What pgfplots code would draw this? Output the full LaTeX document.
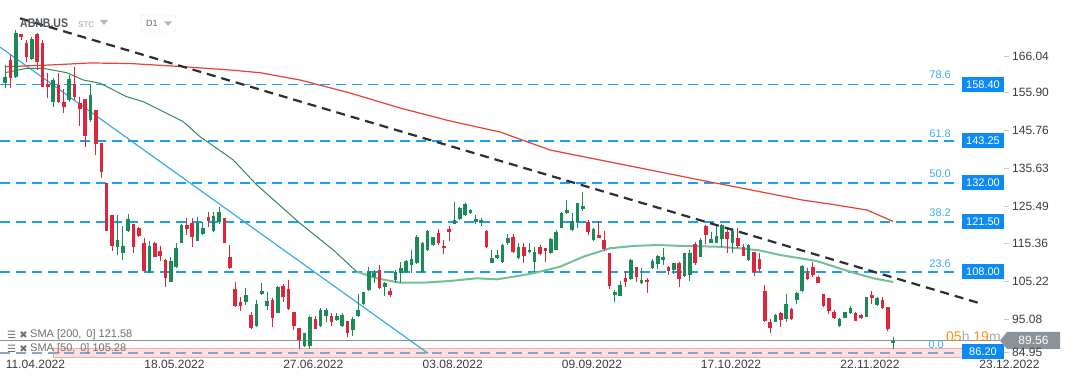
\documentclass[border=0pt]{standalone}
\usepackage{pgfplots}
\pgfplotsset{compat=1.18}
\usepackage{pgfplotstable}
\usepackage{fontspec}
\setmainfont{Liberation Sans}
\newfontfamily\dejavu{DejaVu Sans}
\definecolor{upc}{HTML}{1A8A56}
\definecolor{dnc}{HTML}{DB263B}
\definecolor{fib}{HTML}{1AA0EE}
\definecolor{fibtxt}{HTML}{3AAAF0}
\definecolor{fibbox}{HTML}{0D8BF5}
\definecolor{smaR}{HTML}{E5403B}
\definecolor{smaG}{HTML}{2E8B57}
\definecolor{smaGl}{HTML}{72C09A}
\definecolor{txt}{HTML}{3C3C3C}
\definecolor{pricegray}{HTML}{8C9398}
\definecolor{cdown}{HTML}{F7931E}
\definecolor{zeroline}{HTML}{8CA5C3}
\definecolor{ltblue}{HTML}{29A8E0}
\definecolor{trend}{HTML}{2B2F33}
\definecolor{hdr}{HTML}{50565C}
\definecolor{hdrl}{HTML}{96A0A8}
\definecolor{tri}{HTML}{B0B8BF}
\definecolor{boxb}{HTML}{DCDCDC}
\definecolor{dtxt}{HTML}{646464}
\definecolor{legt}{HTML}{6E6E6E}
\definecolor{hgray}{HTML}{A8AEB2}

\pgfplotstableread{
i o h l c
1 158.9 163.6 157.4 160.3
3 160.5 173.0 160.1 172.2
6 165.2 171.1 165.0 170.5
10 153.6 160.0 152.4 159.6
13 154.2 160.9 153.8 159.8
17 148.8 158.5 148.4 155.6
22 114.6 123.3 112.5 116.6
23 113.1 120.3 111.2 114.9
24 119.1 123.5 118.8 122.1
28 107.8 116.4 107.6 114.9
32 105.4 112.1 105.2 110.9
33 109.4 115.7 109.0 114.3
34 115.9 120.8 115.7 120.6
37 116.4 122.8 116.3 121.2
38 118.1 121.3 117.9 119.7
40 119.1 124.0 118.8 123.0
41 121.3 125.4 121.0 124.2
46 99.8 103.6 99.1 101.7
48 93.5 100.5 93.3 99.4
49 102.1 105.0 101.8 102.9
50 98.8 102.7 97.8 100.2
52 97.0 104.2 97.0 104.0
57 88.0 91.7 87.8 91.5
58 88.1 96.2 87.2 96.0
60 93.5 98.2 93.3 97.8
61 96.1 98.4 94.6 97.8
63 95.1 97.0 94.9 96.1
64 93.5 97.0 93.3 96.5
66 92.4 96.0 90.8 95.3
67 96.1 102.0 96.0 97.8
68 99.4 102.7 99.1 102.5
69 103.1 109.2 102.9 108.3
70 106.7 108.5 104.9 107.8
72 103.9 105.4 101.6 105.0
74 105.8 108.5 104.9 108.0
75 107.6 110.7 104.9 109.0
76 108.0 111.2 107.8 111.0
77 109.9 113.9 107.6 111.5
78 110.3 117.9 110.1 117.3
79 108.0 116.1 107.8 115.8
80 113.9 119.3 113.7 119.1
81 115.2 117.4 115.0 117.3
85 121.0 126.9 121.0 121.9
86 122.1 125.4 121.9 125.1
87 123.3 126.6 123.0 126.2
88 123.9 124.8 123.6 124.6
89 121.3 123.3 121.0 122.1
90 121.2 122.4 120.3 121.9
92 110.5 114.0 110.3 111.8
93 111.7 114.0 111.4 112.5
94 110.7 115.5 110.5 115.2
95 115.7 118.1 115.2 117.2
97 111.7 115.7 111.5 114.6
99 113.4 115.7 113.2 114.0
100 110.6 114.6 108.0 113.3
103 113.0 117.0 112.8 116.8
104 114.0 119.3 113.9 118.8
105 119.9 124.0 119.7 123.7
106 123.9 127.3 123.5 124.6
107 119.3 123.7 119.1 121.7
108 121.5 126.6 119.7 126.4
109 124.9 129.6 124.4 125.7
111 116.6 119.9 116.4 119.5
115 101.8 103.1 100.0 102.5
116 101.6 105.5 101.5 104.5
118 106.0 111.4 105.8 111.2
120 105.0 109.0 104.7 105.8
122 109.0 111.4 108.8 111.0
123 110.1 112.5 108.7 112.3
124 111.2 114.3 109.9 111.9
126 108.5 110.5 107.4 110.4
128 107.0 113.2 106.7 113.0
129 107.2 113.9 105.6 113.2
131 112.1 117.0 111.9 116.6
133 115.9 118.8 115.7 116.8
134 115.9 120.3 115.7 117.6
135 116.8 120.8 114.6 120.6
137 115.7 119.9 113.0 119.0
140 111.2 115.4 111.0 115.2
145 94.6 96.6 94.4 96.4
147 95.3 102.0 94.4 99.3
149 100.5 102.7 99.3 102.3
150 102.9 109.9 102.5 109.7
157 93.5 95.5 93.3 95.3
158 95.7 97.3 95.5 97.2
159 96.9 98.9 96.7 98.2
162 96.0 101.3 95.8 101.2
164 99.0 101.3 98.9 101.0
167 88.8 90.6 87.3 89.56
}\up

\pgfplotstableread{
i o h l c
2 164.96 166.3 157.4 160.0
4 172.0 172.0 170.3 171.2
5 169.6 170.3 164.5 165.7
7 172.0 172.1 162.3 164.5
8 169.4 170.3 157.6 157.8
9 158.5 161.4 154.7 157.6
11 158.2 161.4 153.3 153.8
12 153.8 157.1 150.8 152.3
14 158.5 163.2 154.2 155.1
15 153.5 155.1 147.2 151.7
16 154.4 154.4 141.7 144.5
18 151.5 151.5 139.4 142.4
19 142.7 142.7 133.2 134.9
20 131.8 131.8 119.1 119.1
21 123.3 123.3 113.7 115.0
25 120.8 120.8 113.1 114.6
26 119.7 120.1 117.4 117.7
27 115.9 117.0 108.3 108.3
29 115.7 116.1 111.9 112.1
30 113.6 115.0 111.0 112.3
31 111.2 111.5 104.0 106.4
35 120.6 122.4 117.9 119.5
36 121.1 122.4 114.6 117.3
39 122.7 124.0 120.0 121.8
42 122.4 122.6 115.7 115.7
43 111.9 115.2 108.7 109.0
44 103.4 105.2 98.6 98.8
45 99.8 101.2 97.6 98.9
47 96.5 97.3 92.6 93.0
51 100.5 100.9 93.3 95.5
53 104.3 104.7 100.0 101.3
54 103.4 105.8 97.8 97.9
55 97.3 97.3 92.4 93.5
56 92.8 92.8 87.2 89.7
59 95.3 96.1 92.6 92.7
62 96.1 97.0 93.5 94.6
65 94.8 94.8 90.6 91.7
71 108.5 109.9 103.3 103.6
73 102.9 103.6 101.3 101.8
82 118.5 119.4 115.2 115.8
83 115.0 116.6 112.8 114.3
84 119.5 120.4 116.4 118.8
91 119.1 119.3 114.3 114.6
96 117.3 118.2 113.0 113.3
98 114.6 115.9 110.5 112.3
101 114.6 115.2 112.5 112.8
102 114.3 114.5 110.7 113.7
110 121.3 121.9 117.9 118.8
112 117.9 121.7 117.0 117.2
113 116.6 119.0 113.6 114.2
114 113.1 113.1 103.3 104.2
117 106.3 108.2 104.0 105.4
119 109.2 109.4 105.4 106.5
121 105.8 106.3 102.4 105.2
125 109.2 109.6 107.2 108.3
127 110.3 110.7 103.9 106.1
130 115.5 116.1 109.9 110.3
132 120.3 120.6 115.5 117.9
136 118.6 119.5 113.0 116.8
138 117.0 119.9 114.3 115.0
139 114.8 115.4 112.3 112.3
141 113.3 113.4 107.0 107.9
142 111.5 113.0 108.2 108.8
143 102.9 104.5 94.6 94.8
144 94.5 95.3 91.5 92.8
146 96.9 97.2 93.2 95.1
148 97.9 98.2 95.1 95.3
151 107.8 109.0 105.8 106.0
152 109.4 110.7 106.7 107.2
153 106.5 106.9 104.9 105.1
154 102.0 102.0 98.6 98.9
155 101.0 101.1 96.8 97.5
156 97.2 97.8 95.3 95.6
160 96.9 97.2 94.8 94.9
161 96.4 96.6 95.3 95.5
163 101.8 102.9 99.3 101.1
165 100.5 101.3 98.0 98.2
166 98.5 98.5 92.1 92.6
}\down

\pgfplotstableread{
i p
1 163.16
9.41 163.62
16.89 164.16
24.36 164.02
33.71 163.22
43.06 162.28
48.66 161.55
56.14 159.59
65.49 156.09
74.83 152.06
84.18 148.57
93.52 145.61
102.87 140.77
112.21 138.08
121.56 135.40
130.91 132.71
142.12 129.56
150.0 127.33
155.2 126.25
162.1 124.64
167.0 121.58
}\smaL

\pgfplotstableread{
i p
1 161.55
5.06 162.73
8.16 162.73
12.53 161.55
15.64 159.59
18.76 158.70
23.75 155.10
26.85 153.75
31.22 150.64
34.33 148.38
37.45 144.35
40.57 141.23
43.67 138.08
48.05 131.40
56.14 121.07
62.36 113.89
66.74 108.06
}\smaSa

\pgfplotstableread{
i p
66.74 108.06
70.48 106.28
74.83 105.10
79.19 105.10
84.18 105.56
89.17 106.28
92.91 106.01
95.39 106.55
99.75 107.63
104.74 109.40
109.10 112.09
114.08 114.35
118.44 114.97
122.81 115.23
127.79 114.97
134.03 114.78
138.38 114.35
142.12 113.76
145.86 112.55
152.72 110.93
158.94 108.06
163.30 106.28
167.04 105.28
}\smaSb

\pgfplotsset{candle/.style 2 args={only marks, mark=*, mark size=0pt,
  mark options={draw=none, fill=none},
  error bars/.cd, y dir=minus, y explicit, error mark=none,
  error bar style={draw=#1, line width=#2}}}

\begin{document}
\begin{tikzpicture}
\begin{axis}[width=1072pt, height=382pt, scale only axis,
  xmin=0.0654, xmax=200.439, ymin=78.406, ymax=181.093,
  axis lines=none, ticks=none, clip=false]
% pink zone around the 0.0 level
\addplot[fill=red!12, draw=red!35, line width=0.8pt] coordinates {(9.97,85.13) (180.44,85.13) (180.44,87.55) (9.97,87.55)} -- cycle;
% fibonacci levels
\addplot[fib, line width=1.8pt, dash pattern=on 10pt off 6pt] coordinates {(0.0654,158.40) (178.57,158.40)};
\addplot[fib, line width=1.8pt, dash pattern=on 10pt off 6pt] coordinates {(0.0654,143.25) (178.57,143.25)};
\addplot[fib, line width=1.8pt, dash pattern=on 10pt off 6pt] coordinates {(0.0654,132.00) (178.57,132.00)};
\addplot[fib, line width=1.8pt, dash pattern=on 10pt off 6pt] coordinates {(0.0654,121.50) (178.57,121.50)};
\addplot[fib, line width=1.8pt, dash pattern=on 10pt off 6pt] coordinates {(0.0654,108.00) (178.57,108.00)};
\addplot[zeroline, line width=1.2pt, dash pattern=on 10pt off 6pt] coordinates {(0.0654,86.20) (178.57,86.20)};
% current price line
\addplot[pricegray, line width=1pt] coordinates {(0.0654,89.56) (186.98,89.56)};
% light blue trend line
\addplot[ltblue, line width=1.1pt] coordinates {(0.0654,168.44) (80.1,86.1)};
% SMA lines
\addplot[smaR, line width=1.2pt] table[x=i,y=p] {\smaL};
\addplot[smaG, line width=1pt] table[x=i,y=p] {\smaSa};
\addplot[smaGl, line width=2pt] table[x=i,y=p] {\smaSb};
% candles: wicks
\addplot[candle={upc}{1pt}] table[x=i, y=h, y error minus expr=\thisrow{h}-\thisrow{l}] {\up};
\addplot[candle={dnc}{1pt}] table[x=i, y=h, y error minus expr=\thisrow{h}-\thisrow{l}] {\down};
% candles: bodies
\addplot[candle={upc}{3.6pt}] table[x=i, y=c, y error minus expr={max(\thisrow{c}-\thisrow{o},0.4)}] {\up};
\addplot[candle={dnc}{3.6pt}] table[x=i, y=o, y error minus expr={max(\thisrow{o}-\thisrow{c},0.4)}] {\down};
% black dashed resistance
\addplot[trend, line width=2.2pt, dash pattern=on 9pt off 6pt] coordinates {(3.80,176.17) (183.24,99.56)};
\end{axis}

\begin{scope}[shift={(current axis.north west)}, x=1pt, y=-1pt]
% header
\node[anchor=west, inner sep=0, text=hdr, font=\fontsize{12.5}{14}\selectfont\bfseries] at (20,23) {\scalebox{0.84}[1]{ABNB.US}};
\node[anchor=west, inner sep=0, text=hdrl, font=\fontsize{8}{9}\selectfont] at (78,24.5) {STC};
\fill[tri] (100,20) -- (108,20) -- (104,25) -- cycle;
\draw[boxb, rounded corners=3pt] (141,15) rectangle (176,32);
\node[anchor=west, inner sep=0, text=dtxt, font=\fontsize{9}{11}\selectfont] at (146,23.5) {D1};
\fill[tri] (164,21.5) -- (172,21.5) -- (168,26) -- cycle;
% fib labels
\foreach \t/\yy in {78.6/75, 61.8/133.3, 50.0/173.3, 38.2/213, 23.6/263.3}{
  \node[anchor=east, inner sep=0, text=fibtxt, font=\fontsize{11}{13}\selectfont] at (951,\yy) {\t};
}
\node[anchor=east, inner sep=0, text=fibtxt, font=\fontsize{11}{13}\selectfont] at (944,344.5) {0.0};
% countdown
\node[anchor=west, inner sep=0, font=\fontsize{14}{16}\selectfont] at (946,336) {\textcolor{cdown}{05}\textcolor{hgray}{h} \textcolor{cdown}{19}\textcolor{hgray}{m}};
% fib price boxes
\foreach \t/\yy in {158.40/84.4, 143.25/141, 132.00/182.7, 121.50/221.7, 108.00/272, 86.20/351.5}{
  \node[fill=fibbox, text=white, minimum width=42pt, minimum height=15pt, inner sep=0, font=\fontsize{11}{13}\selectfont] at (983,\yy) {\t};
}
% current price tag
\fill[pricegray] (1000,340.5) -- (1007,332) -- (1060,332) -- (1060,349) -- (1007,349) -- cycle;
\node[text=white, inner sep=0, font=\fontsize{12}{14}\selectfont] at (1033.5,340.5) {89.56};
% right price scale
\foreach \t/\yy in {166.04/56, 155.90/92.7, 145.76/130.7, 135.63/168.3, 125.49/206, 115.36/243.3, 105.22/281.7, 95.08/319, 84.95/352}{
  \draw[gray!40] (1004,\yy) -- (1009,\yy);
  \node[anchor=west, inner sep=0, text=txt, font=\fontsize{12}{14}\selectfont] at (1012,\yy) {\t};
}
% date labels
\foreach \t/\xx in {11.04.2022/35.5, 18.05.2022/174.5, 27.06.2022/313.3, 03.08.2022/452.7, 09.09.2022/592, 17.10.2022/731, 22.11.2022/870, 23.12.2022/1009.5}{
  \node[inner sep=0, text=txt, font=\fontsize{12}{14}\selectfont] at (\xx,364.5) {\t};
}
% indicator legend
\foreach \t/\yy in {{SMA [200,\, 0] 121.58}/335, {SMA [50,\, 0] 105.28}/349}{
  \node[inner sep=0, text=legt, font=\fontsize{10}{12}\dejavu] at (11.5,\yy) {☰};
  \node[inner sep=0, text=legt, font=\fontsize{10}{12}\dejavu] at (23.5,\yy) {✖};
  \node[anchor=west, inner sep=0, text=legt, font=\fontsize{11}{13}\selectfont] at (30,\yy) {\t};
}
\end{scope}
\pgfresetboundingbox
\path[use as bounding box] (current axis.south west) rectangle (current axis.north east);
\end{tikzpicture}
\end{document}
